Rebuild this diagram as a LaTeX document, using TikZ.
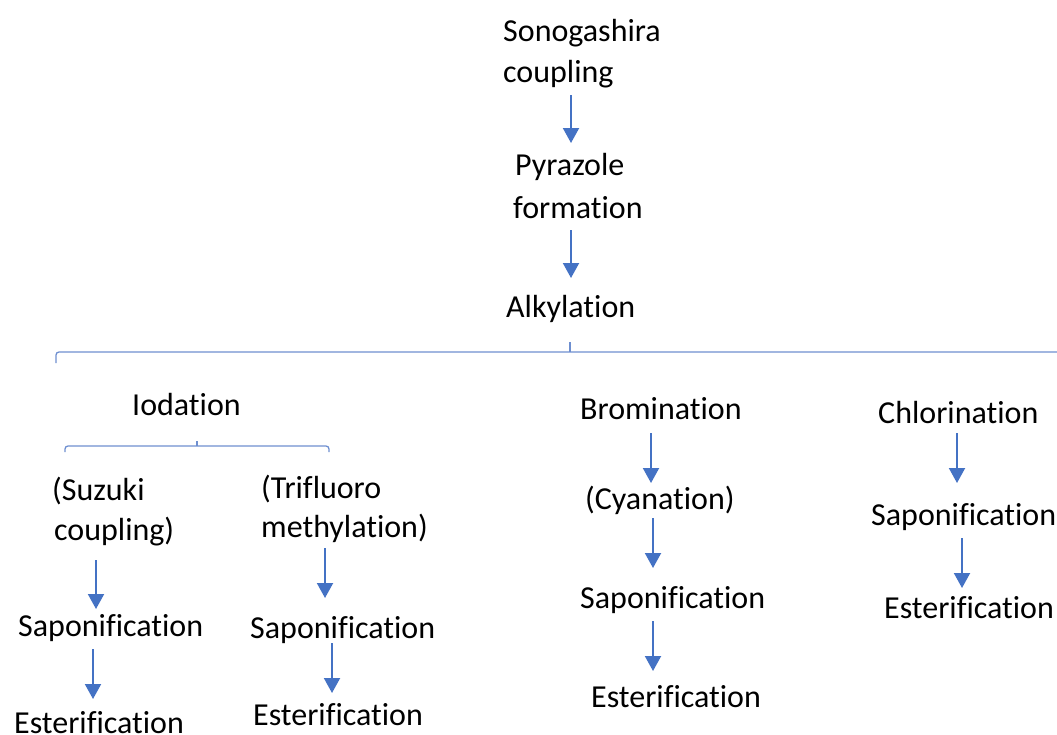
\documentclass[tikz,border=0pt]{standalone}
\usepackage{fontspec}
\setmainfont{Carlito}[Ligatures=NoCommon]
\usetikzlibrary{arrows.meta}
\definecolor{arrblue}{HTML}{4472C4}
\definecolor{braceblue}{HTML}{6E8FD0}
\tikzset{
  lbl/.style={anchor=base west, inner sep=0pt, font=\fontsize{32}{38}\selectfont},
  arr/.style={draw=arrblue, line width=2pt, -{Triangle[width=16pt,length=15pt]}},
  brace/.style={draw=braceblue, line width=1.3pt},
}
\begin{document}
\begin{tikzpicture}[x=1pt,y=-1pt]
\useasboundingbox (0,0) rectangle (1057,734);
% labels
\node[lbl] (sono1) at (503,41) {Sonogashira};
\node[lbl] (sono2) at (503,82) {coupling};
\node[lbl] (pyr1) at (515,175) {Pyrazole};
\node[lbl] (pyr2) at (513,218) {formation};
\node[lbl] (alk) at (506,317) {Alkylation};
\node[lbl] (iod) at (132,415) {Iodation};
\node[lbl] (suz1) at (52,500) {(Suzuki};
\node[lbl] (suz2) at (54,540) {coupling)};
\node[lbl] (sap1) at (18,636) {Saponification};
\node[lbl] (est1) at (14,733) {Esterification};
\node[lbl] (tri1) at (261,498) {(Trifluoro};
\node[lbl] (tri2) at (261,537) {methylation)};
\node[lbl] (sap2) at (250,638) {Saponification};
\node[lbl] (est2) at (253,725) {Esterification};
\node[lbl] (brom) at (580,419) {Bromination};
\node[lbl] (cyan) at (585,509) {(Cyanation)};
\node[lbl] (sap3) at (580,608) {Saponification};
\node[lbl] (est3) at (591,707) {Esterification};
\node[lbl] (chl) at (878,423) {Chlorination};
\node[lbl] (sap4) at (871,525) {Saponification};
\node[lbl] (est4) at (884,618) {Esterification};
% arrow end points
\coordinate (a1s) at (571,95);  \coordinate (a1e) at (571,143);
\coordinate (a2s) at (571,230); \coordinate (a2e) at (571,278);
\coordinate (b1s) at (96,560);  \coordinate (b1e) at (96,609);
\coordinate (b2s) at (93,649);  \coordinate (b2e) at (93,699);
\coordinate (c1s) at (325,548); \coordinate (c1e) at (325,598);
\coordinate (c2s) at (332,643); \coordinate (c2e) at (332,693);
\coordinate (d1s) at (651,433); \coordinate (d1e) at (651,483);
\coordinate (d2s) at (653,518); \coordinate (d2e) at (653,568);
\coordinate (d3s) at (653,621); \coordinate (d3e) at (653,671);
\coordinate (e1s) at (957,433); \coordinate (e1e) at (957,483);
\coordinate (e2s) at (962,538); \coordinate (e2e) at (962,588);
\foreach \p in {a1,a2,b1,b2,c1,c2,d1,d2,d3,e1,e2}
  \draw[arr] (\p s) -- (\p e);
% braces
\coordinate (bigL) at (56,363);
\coordinate (bigT) at (570,342);
\coordinate (bigR) at (1060,352);
\draw[brace, rounded corners=3pt] (bigL) -- (56,352) -- (bigR);
\draw[brace] (bigT) -- (570,352);
\coordinate (smL) at (65,452);
\coordinate (smT) at (197,441);
\coordinate (smR) at (329,452);
\draw[brace, rounded corners=3pt] (smL) -- (65,446) -- (329,446) -- (smR);
\draw[brace] (smT) -- (197,446);
\end{tikzpicture}
\end{document}
